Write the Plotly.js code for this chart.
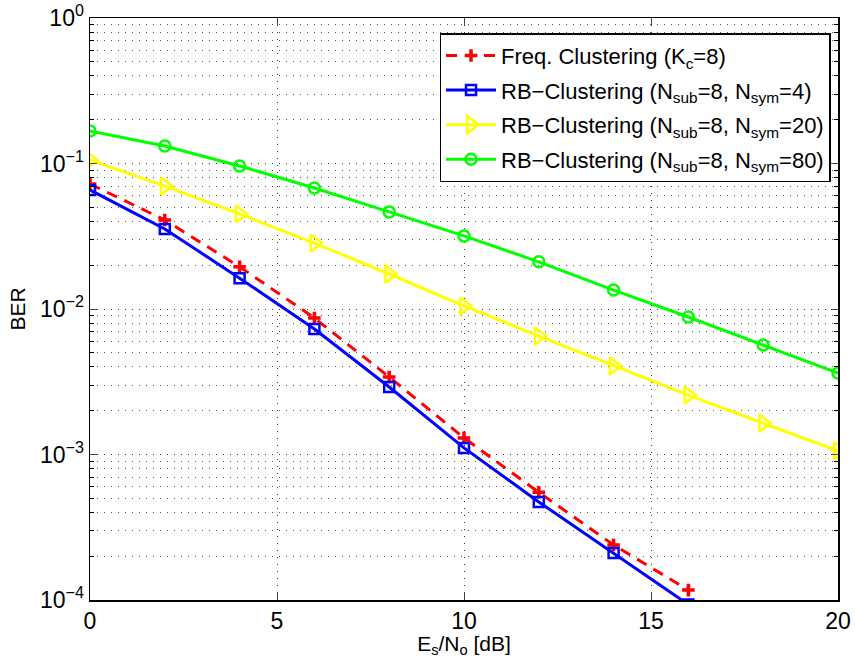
<!DOCTYPE html>
<html>
<head>
<meta charset="utf-8">
<script src="https://cdn.plot.ly/plotly-3.0.1.min.js"></script>
<style>html,body{margin:0;padding:0;background:#fff;}#chart{width:855px;height:658px;}</style>
</head>
<body>
<div id="chart"></div>
<script>
// Es/No [dB]
const snr = [0, 2, 4, 6, 8, 10, 12, 14, 16, 18, 20];
const snrFreq = [0, 2, 4, 6, 8, 10, 12, 14, 16];
const snrRb4 = [0, 2, 4, 6, 8, 10, 12, 14, 16];

const berFreq = [0.0723, 0.0409, 0.0195, 0.00867, 0.00341, 0.00130, 0.00055, 0.000239, 0.000117];
const berRb4 = [0.0658, 0.0355, 0.0163, 0.00729, 0.00291, 0.00111, 0.000472, 0.000210, 0.000093];
const berRb20 = [0.1057, 0.0700, 0.0450, 0.0284, 0.0174, 0.0105, 0.00652, 0.00406, 0.00256, 0.00164, 0.00106];
const berRb80 = [0.167, 0.132, 0.0962, 0.0679, 0.0465, 0.0318, 0.0211, 0.0135, 0.00881, 0.00566, 0.00363];

const names = [
  'Freq. Clustering (K<sub>c</sub>=8)',
  'RB\u2212Clustering (N<sub>sub</sub>=8, N<sub>sym</sub>=4)',
  'RB\u2212Clustering (N<sub>sub</sub>=8, N<sub>sym</sub>=20)',
  'RB\u2212Clustering (N<sub>sub</sub>=8, N<sub>sym</sub>=80)'
];

const yTickVals = [1e-4, 1e-3, 1e-2, 1e-1, 1];
const yTickText = ['10<sup>\u22124</sup>', '10<sup>\u22123</sup>', '10<sup>\u22122</sup>', '10<sup>\u22121</sup>', '10<sup>0</sup>'];
const xTickVals = [0, 5, 10, 15, 20];

const traces = [
  {x: snrFreq, y: berFreq, name: names[0], mode: 'lines+markers', legendgroup: 'a',
   line: {color: '#ff0000', width: 3, dash: '11px,8px'},
   marker: {symbol: 'cross-thin-open', size: 9, color: '#ff0000', line: {color: '#ff0000', width: 3.5}}},
  {x: snrRb4, y: berRb4, name: names[1], mode: 'lines+markers', legendgroup: 'b',
   line: {color: '#0000ff', width: 3},
   marker: {symbol: 'square-open', size: 10, color: '#0000ff', line: {color: '#0000ff', width: 2.5}}},
  {x: snr, y: berRb20, name: names[2], mode: 'lines+markers', legendgroup: 'c',
   line: {color: '#ffff00', width: 3},
   marker: {symbol: 'triangle-right-open', size: 15, color: '#ffff00', line: {color: '#ffff00', width: 2.5}}},
  {x: snr, y: berRb80, name: names[3], mode: 'lines+markers', legendgroup: 'd',
   line: {color: '#00ff00', width: 3},
   marker: {symbol: 'circle-open', size: 11, color: '#00ff00', line: {color: '#00ff00', width: 2.5}}}
];

const font = {family: 'Liberation Sans, Arial, sans-serif', size: 21, color: '#000'};

const layout = {
  width: 855, height: 658,
  margin: {l: 90, r: 17, t: 18, b: 58},
  paper_bgcolor: '#fff', plot_bgcolor: '#fff',
  font: font,
  showlegend: true,
  xaxis: {
    range: [0, 20], tickvals: xTickVals, ticks: 'inside', ticklen: 7, tickwidth: 1,
    showline: true, linecolor: '#000', linewidth: 1.5, mirror: 'ticks',
    showgrid: true, gridcolor: '#333', griddash: '1px,6px', gridwidth: 1,
    zeroline: false,
    title: {text: 'E<sub>s</sub>/N<sub>o</sub> [dB]', font: {size: 21}, standoff: 4},
    tickfont: {size: 23}
  },
  yaxis: {
    type: 'log', range: [-4, 0], tickvals: yTickVals, ticktext: yTickText,
    ticks: 'inside', ticklen: 7, tickwidth: 1,
    showline: true, linecolor: '#000', linewidth: 1.5, mirror: 'ticks',
    showgrid: true, gridcolor: '#333', griddash: '1px,6px', gridwidth: 1,
    zeroline: false,
    title: {text: 'BER', font: {size: 21}, standoff: 8},
    tickfont: {size: 23},
    minor: {ticks: 'inside', ticklen: 4, dtick: 'D1', tickcolor: '#000', showgrid: true, gridcolor: '#555', griddash: '1px,6px', gridwidth: 1}
  },
  legend: {
    x: 0.990, y: 0.974, xanchor: 'right', yanchor: 'top',
    bgcolor: '#fff', bordercolor: '#000', borderwidth: 1.5,
    font: {size: 22}, tracegroupgap: 3, itemwidth: 50
  }
};

Plotly.newPlot('chart', traces, layout, {staticPlot: true});
</script>
</body>
</html>
